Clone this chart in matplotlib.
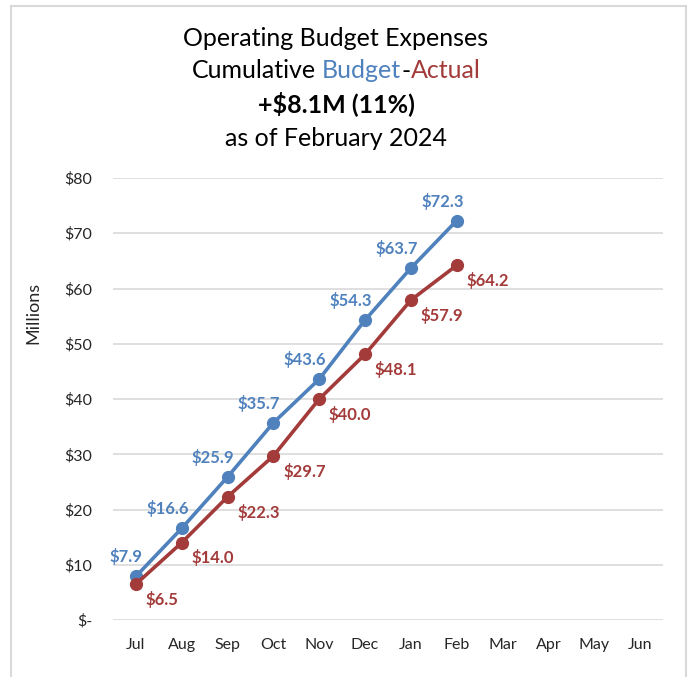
import matplotlib
matplotlib.use("Agg")
import matplotlib.pyplot as plt
from matplotlib.lines import Line2D

months = ["Jul", "Aug", "Sep", "Oct", "Nov", "Dec", "Jan", "Feb", "Mar", "Apr", "May", "Jun"]
budget = [7.9, 16.6, 25.9, 35.7, 43.6, 54.3, 63.7, 72.3]
actual = [6.5, 14.0, 22.3, 29.7, 40.0, 48.1, 57.9, 64.2]
yticks = [0, 10, 20, 30, 40, 50, 60, 70, 80]
ytick_labels = ["$-", "$10", "$20", "$30", "$40", "$50", "$60", "$70", "$80"]

BLUE = "#4F81BD"
RED = "#A33B3A"
FONT = "Lato"
plt.rcParams['font.family'] = [FONT, 'DejaVu Sans']

W, H = 694, 677
fig = plt.figure(figsize=(W / 100, H / 100), dpi=100)
ax = fig.add_axes([113 / W, 1 - 620 / H, 550 / W, (620 - 178) / H])

x = list(range(len(budget)))
ax.plot(x, budget, color=BLUE, lw=2.6, marker='o', ms=8.5, zorder=3)
ax.plot(x, actual, color=RED, lw=2.6, marker='o', ms=8.5, zorder=3)

for xi, v in zip(x, budget):
    ax.annotate(f"${v:.1f}", (xi, v), xytext=(5, 14), textcoords='offset points',
                ha='right', va='center', color=BLUE, fontsize=12, fontweight='bold')
for xi, v in zip(x, actual):
    ax.annotate(f"${v:.1f}", (xi, v), xytext=(7, -11), textcoords='offset points',
                ha='left', va='center', color=RED, fontsize=12, fontweight='bold')

ax.set_xlim(-0.5, len(months) - 0.5)
ax.set_ylim(0, 80)
ax.set_xticks(range(len(months)))
ax.set_xticklabels(months)
ax.set_yticks(yticks)
ax.set_yticklabels(ytick_labels)
ax.tick_params(length=0, labelsize=11.5, labelcolor="#262626")
ax.tick_params(axis='y', pad=15)
ax.tick_params(axis='x', pad=13)
ax.grid(axis='y', color="#D9D9D9", lw=1.2)
ax.set_axisbelow(True)
for s in ax.spines.values():
    s.set_visible(False)

fig.text(33 / W, 1 - 313 / H, "Millions", rotation=90, ha='center', va='center',
         fontsize=13, color="#262626")

TS = 18
cx = 336 / W
fig.text(cx, 1 - 38 / H, "Operating Budget Expenses", ha='center', va='center', fontsize=TS)
fig.text(cx, 1 - 104 / H, "+$8.1M (11%)", ha='center', va='center', fontsize=TS, fontweight='bold')
fig.text(cx, 1 - 139 / H, "as of February 2024", ha='center', va='center', fontsize=TS)

# Multi-coloured second line: each part right-aligned to the end of its prefix
parts = [("Cumulative ", "black"), ("Budget", BLUE), ("-", "black"), ("Actual", RED)]
r = fig.canvas.get_renderer()
probe = fig.text(0, 0, "", fontsize=TS)
def width(s):
    if not s:
        return 0.0
    probe.set_text(s)
    return probe.get_window_extent(r).width
full = "".join(p for p, _ in parts)
total = width(full)
start = cx * W - total / 2
acc = ""
for p, c in parts:
    acc += p
    end = width(acc.rstrip())
    fig.text((start + end) / W, 1 - 71 / H, p.strip(), ha='right', va='center', fontsize=TS, color=c)
probe.remove()

# border
fig.add_artist(Line2D([11 / W, 11 / W], [0, 1 - 6 / H], color="#D9D9D9", lw=1.5))
fig.add_artist(Line2D([686 / W, 686 / W], [0, 1 - 6 / H], color="#D9D9D9", lw=1.5))
fig.add_artist(Line2D([11 / W, 686 / W], [1 - 6 / H, 1 - 6 / H], color="#D9D9D9", lw=1.5))

fig.savefig("out.png", dpi=100, facecolor="white")
